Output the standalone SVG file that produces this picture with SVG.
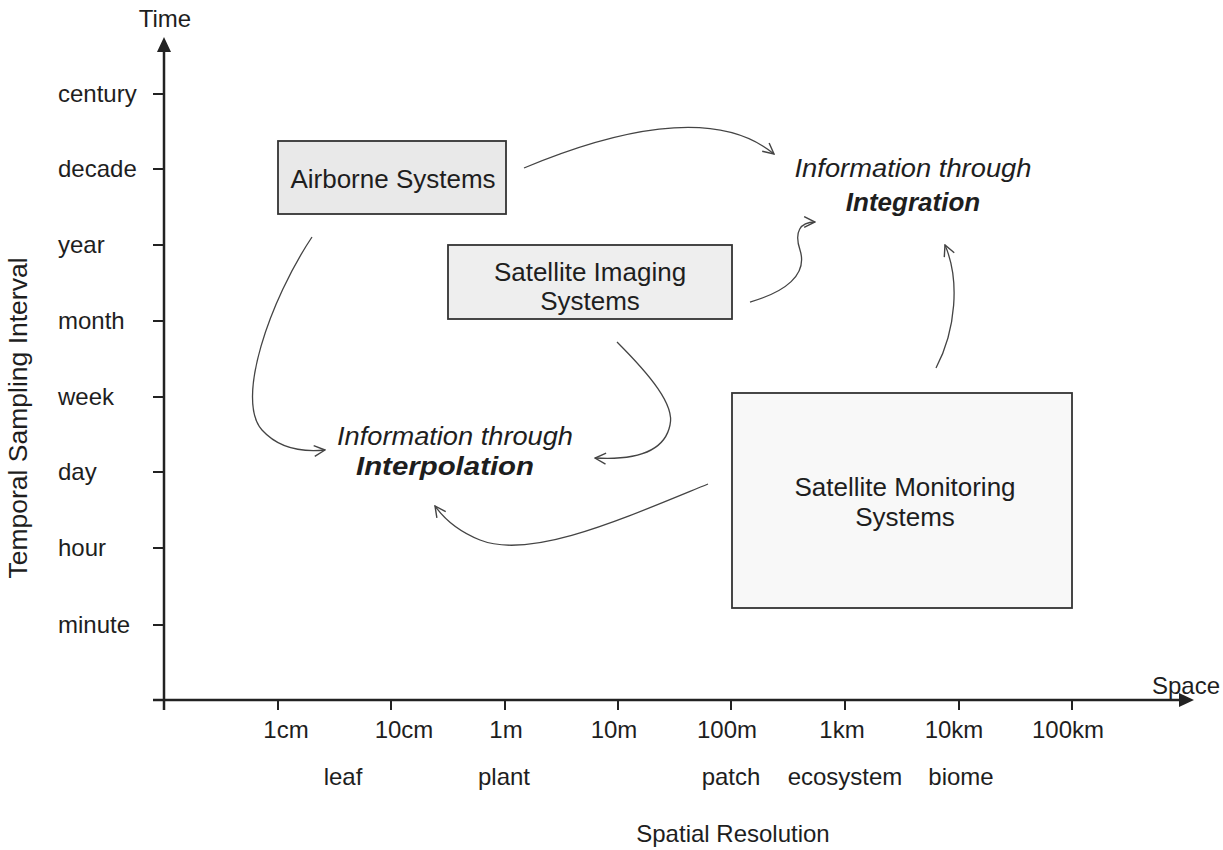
<svg xmlns="http://www.w3.org/2000/svg" width="1223" height="850" viewBox="0 0 1223 850">
<defs>
<style>
text{font-family:"Liberation Sans",Arial,sans-serif;fill:#1e1e1e}
.lab{font-size:24px}
.ylab{font-size:24px}
.box{font-size:26px;text-anchor:middle}
.info{font-size:25px;font-style:italic;text-anchor:middle}
.infob{font-size:26px;font-style:italic;font-weight:bold;text-anchor:middle}
.mid{text-anchor:middle}
.axis{stroke:#222;stroke-width:2.5;fill:none}
.tick{stroke:#222;stroke-width:2;fill:none}
.node rect{stroke:#333;stroke-width:1.8}
.conn path{fill:none;stroke:#444;stroke-width:1.3;marker-end:url(#open)}
</style>
<marker id="open" viewBox="0 0 12 12" refX="11" refY="6" markerWidth="13" markerHeight="13" markerUnits="userSpaceOnUse" orient="auto">
<path d="M1,1 L11,6 L1,11" fill="none" stroke="#444" stroke-width="1.3"/>
</marker>
</defs>
<rect width="1223" height="850" fill="#ffffff"/>

<g id="axes">
<line class="axis" x1="164" y1="48" x2="164" y2="710"/>
<polygon points="164,37 157,52 171,52" fill="#222"/>
<line class="axis" x1="153" y1="700" x2="1182" y2="700"/>
<polygon points="1194,700 1179,693 1179,707" fill="#222"/>
<g class="tick">
<line x1="153" y1="94" x2="164" y2="94"/>
<line x1="153" y1="169" x2="164" y2="169"/>
<line x1="153" y1="245" x2="164" y2="245"/>
<line x1="153" y1="321" x2="164" y2="321"/>
<line x1="153" y1="397" x2="164" y2="397"/>
<line x1="153" y1="472" x2="164" y2="472"/>
<line x1="153" y1="548" x2="164" y2="548"/>
<line x1="153" y1="625" x2="164" y2="625"/>
<line x1="278" y1="700" x2="278" y2="710"/>
<line x1="391" y1="700" x2="391" y2="710"/>
<line x1="505" y1="700" x2="505" y2="710"/>
<line x1="618" y1="700" x2="618" y2="710"/>
<line x1="731" y1="700" x2="731" y2="710"/>
<line x1="845" y1="700" x2="845" y2="710"/>
<line x1="959" y1="700" x2="959" y2="710"/>
<line x1="1072" y1="700" x2="1072" y2="710"/>
</g>
<text class="lab mid" x="165" y="27">Time</text>
<text class="lab mid" x="1186" y="694">Space</text>
<text class="ylab" x="58" y="102">century</text>
<text class="ylab" x="58" y="177">decade</text>
<text class="ylab" x="58" y="253">year</text>
<text class="ylab" x="58" y="329">month</text>
<text class="ylab" x="58" y="405">week</text>
<text class="ylab" x="58" y="480">day</text>
<text class="ylab" x="58" y="556">hour</text>
<text class="ylab" x="58" y="633">minute</text>
<text class="lab mid" x="286" y="738">1cm</text>
<text class="lab mid" x="404" y="738">10cm</text>
<text class="lab mid" x="506" y="738">1m</text>
<text class="lab mid" x="614" y="738">10m</text>
<text class="lab mid" x="727" y="738">100m</text>
<text class="lab mid" x="842" y="738">1km</text>
<text class="lab mid" x="954" y="738">10km</text>
<text class="lab mid" x="1068" y="738">100km</text>
<text class="lab mid" x="343" y="785">leaf</text>
<text class="lab mid" x="504" y="785">plant</text>
<text class="lab mid" x="731" y="785">patch</text>
<text class="lab mid" x="845" y="785">ecosystem</text>
<text class="lab mid" x="961" y="785">biome</text>
<text class="lab mid" x="733" y="842">Spatial Resolution</text>
<text class="mid" transform="translate(27,418) rotate(-90)" font-size="26.5">Temporal Sampling Interval</text>
</g>

<g id="airborne" class="node">
<rect x="278" y="141" width="228" height="73" fill="#e9e9e9"/>
<text class="box" x="393" y="188">Airborne Systems</text>
</g>
<g id="satellite-imaging" class="node">
<rect x="448" y="245" width="284" height="74" fill="#eeeeee"/>
<text class="box" x="590" y="281">Satellite Imaging</text>
<text class="box" x="590" y="310">Systems</text>
</g>
<g id="satellite-monitoring" class="node">
<rect x="732" y="393" width="340" height="215" fill="#f8f8f8"/>
<text class="box" x="905" y="496">Satellite Monitoring</text>
<text class="box" x="905" y="526">Systems</text>
</g>
<g id="integration">
<text class="info" x="913" y="177" textLength="237" lengthAdjust="spacingAndGlyphs">Information through</text>
<text class="infob" x="913" y="211">Integration</text>
</g>
<g id="interpolation">
<text class="info" x="455" y="445" textLength="236" lengthAdjust="spacingAndGlyphs">Information through</text>
<text class="infob" x="445" y="475" textLength="178" lengthAdjust="spacingAndGlyphs">Interpolation</text>
</g>

<g id="connectors" class="conn">
<path d="M524,168 C610,132 715,105 774,154"/>
<path d="M750,302 C785,292 808,275 800,250 C794,232 800,222 815,222"/>
<path d="M936,368 C956,330 960,280 945,245"/>
<path d="M312,237 C270,300 235,400 262,430 C280,450 305,452 325,450"/>
<path d="M617,342 C650,375 675,405 670,425 C664,455 630,460 595,458"/>
<path d="M708,484 C620,520 530,560 480,540 C460,532 445,520 435,506"/>
</g>
</svg>
